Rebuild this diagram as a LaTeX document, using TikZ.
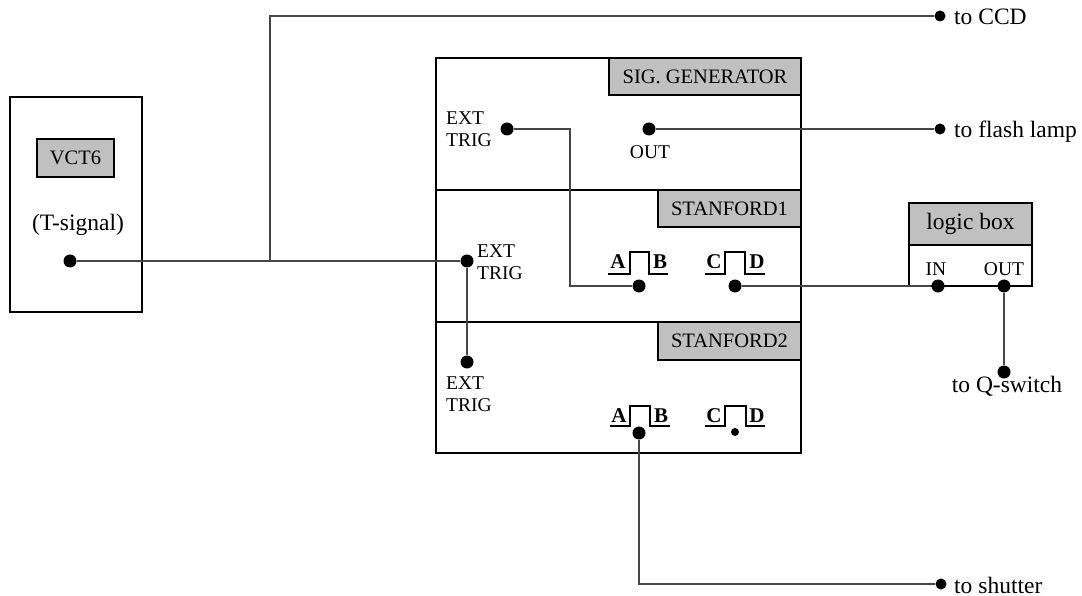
\documentclass[tikz,border=0pt]{standalone}
\usepackage{fontspec}
\setmainfont{Liberation Serif}
\definecolor{boxgray}{RGB}{192,192,192}
\definecolor{wiregray}{RGB}{70,70,70}

\begin{document}
\begin{tikzpicture}[x=1pt,y=-1pt]
    \tikzset{dot/.style = {shape=circle,fill,inner sep=0pt,minimum size=13pt}}
    \tikzset{enddot/.style = {shape=circle,fill,inner sep=0pt,minimum size=11pt}}
    \tikzset{smalldot/.style = {shape=circle,fill,inner sep=0pt,minimum size=8pt}}
    \tikzset{box/.style = {shape=rectangle,draw,line width=1.3pt,inner sep=0pt}}
    \tikzset{title/.style = {box,fill=boxgray,font=\fontsize{20.5}{23}\selectfont}}
    \tikzset{lbl/.style = {inner sep=0pt,align=left,font=\fontsize{19.5}{22.5}\selectfont}}
    \tikzset{big/.style = {inner sep=0pt,font=\fontsize{23.5}{27}\selectfont}}
    \tikzset{pin/.style = {inner sep=0pt,font=\fontsize{21}{23}\selectfont\bfseries}}
    \tikzset{wire/.style = {line width=1.2pt,draw=wiregray}}

    \useasboundingbox (0,0) rectangle (1082,596);

    % boxes
    \node[box,minimum width=132pt,minimum height=215pt] (vct) at (76,204.5) {};
    \node[box,minimum width=365pt,minimum height=132pt] (sig) at (618.5,124) {};
    \node[box,minimum width=365pt,minimum height=132pt] (stan1) at (618.5,256) {};
    \node[box,minimum width=365pt,minimum height=131pt] (stan2) at (618.5,387.5) {};
    \node[box,minimum width=123pt,minimum height=83pt] (logic) at (970.5,244.5) {};

    \node[title,minimum width=77pt,minimum height=38pt] (vcttitle) at (75.5,158) {VCT6};
    \node[title,minimum width=192pt,minimum height=37pt] (sigtitle) at (705,76.5) {SIG. GENERATOR};
    \node[title,minimum width=143pt,minimum height=37pt] (stan1title) at (729.5,208.5) {STANFORD1};
    \node[title,minimum width=143pt,minimum height=38pt] (stan2title) at (729.5,341) {STANFORD2};
    \node[title,minimum width=123pt,minimum height=42pt,font=\fontsize{23.5}{27}\selectfont] (logictitle) at (970.5,224) {logic box};

    % labels
    \node[big] (tsig) at (78,225) {(T-signal)};
    \node[lbl,anchor=west] (sigext) at (446,129) {EXT\\TRIG};
    \node[lbl] (sigout) at (650,152) {OUT};
    \node[lbl,anchor=west] (s1ext) at (477,262) {EXT\\TRIG};
    \node[lbl,anchor=west] (s2ext) at (446,394) {EXT\\TRIG};
    \node[lbl] (login) at (936,269) {IN};
    \node[lbl] (logout) at (1004,269) {OUT};
    \node[big,anchor=base west] (ccdtxt) at (954,25) {to CCD};
    \node[big,anchor=base west] (flashtxt) at (954,138) {to flash lamp};
    \node[big,anchor=base west] (shuttxt) at (954,593) {to shutter};
    \node[big,anchor=base] (qtxt) at (1007,392) {to Q-switch};

    % pulses
    \draw[line width=1.2pt] (608,274) -- (630,274) -- (630,252) -- (649,252) -- (649,274) -- (668,274);
    \draw[line width=1.2pt] (705,274) -- (725,274) -- (725,252) -- (745,252) -- (745,274) -- (765,274);
    \draw[line width=1.2pt] (610,426) -- (630,426) -- (630,406) -- (650,406) -- (650,426) -- (670,426);
    \draw[line width=1.2pt] (705,426) -- (725,426) -- (725,406) -- (746,406) -- (746,426) -- (765,426);
    \node[pin,anchor=base] (a1) at (618,269) {A};
    \node[pin,anchor=base] (b1) at (660,269) {B};
    \node[pin,anchor=base] (c1) at (714,269) {C};
    \node[pin,anchor=base] (d1) at (757,269) {D};
    \node[pin,anchor=base] (a2) at (619,422) {A};
    \node[pin,anchor=base] (b2) at (661,422) {B};
    \node[pin,anchor=base] (c2) at (714,422) {C};
    \node[pin,anchor=base] (d2) at (757,422) {D};

    % terminals
    \node[dot] (tdot) at (70,261) {};
    \node[dot] (sigextdot) at (507,129) {};
    \node[dot] (sigoutdot) at (649,129) {};
    \node[dot] (s1extdot) at (467,261) {};
    \node[dot] (ab1) at (639,286) {};
    \node[dot] (cd1) at (735,286) {};
    \node[dot] (s2extdot) at (467,362) {};
    \node[dot] (ab2) at (639,433) {};
    \node[smalldot] (cd2) at (735,432) {};
    \node[dot] (indot) at (938,286) {};
    \node[dot] (outdot) at (1004,286) {};
    \node[enddot] (ccd) at (940,16) {};
    \node[enddot] (flash) at (940,129) {};
    \node[enddot] (shutter) at (941,584) {};
    \node[dot] (qswitch) at (1004,372) {};
    \coordinate (split) at (270,261);
    \coordinate (bend) at (570,286);

    % wires
    \draw[wire] (tdot) -- (s1extdot);
    \draw[wire] (split) |- (ccd);
    \draw[wire] (sigextdot) -| (bend) -- (ab1);
    \draw[wire] (sigoutdot) -- (flash);
    \draw[wire] (s1extdot) -- (s2extdot);
    \draw[wire] (cd1) -- (indot);
    \draw[wire] (outdot) -- (qswitch);
    \draw[wire] (ab2) |- (shutter);
\end{tikzpicture}
\end{document}
